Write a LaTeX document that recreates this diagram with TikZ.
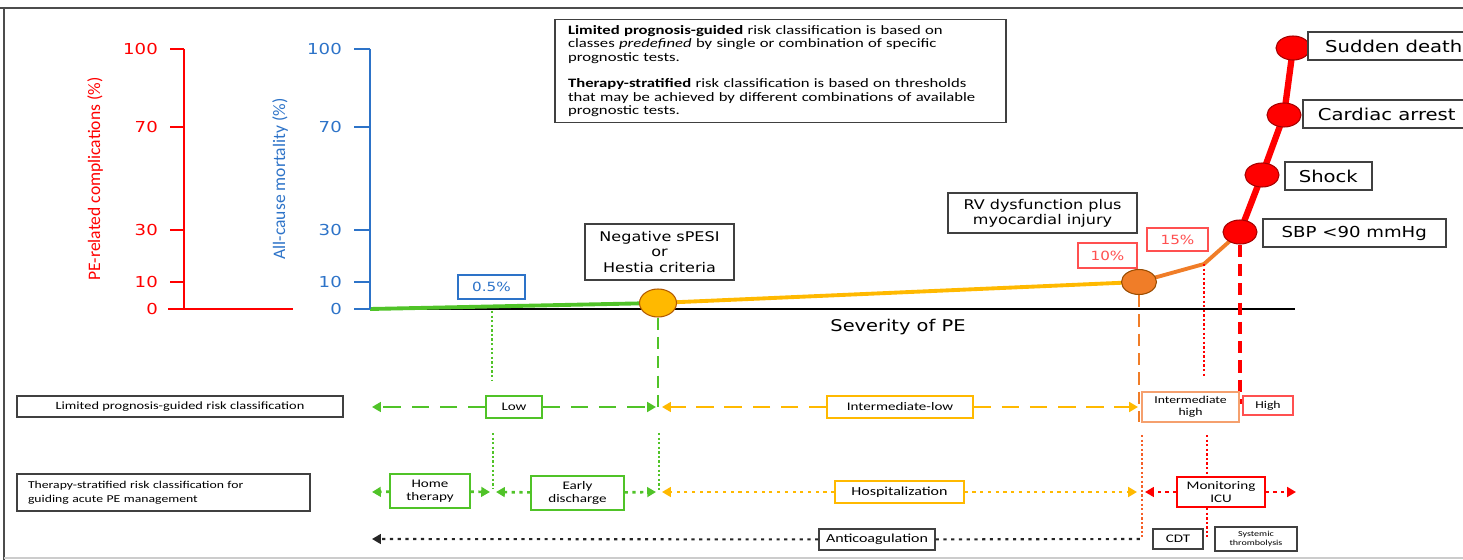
\documentclass[tikz,border=0pt]{standalone}
\usepackage{fontspec}
\setmainfont{Carlito}[FakeStretch=1.3]
\newfontfamily\vfont{DejaVu Sans}[FakeStretch=1.2]
\newfontfamily\plainfont{Carlito}
\usetikzlibrary{positioning, shapes.geometric, arrows.meta, backgrounds}
\definecolor{pegreen}{RGB}{80,195,40}
\definecolor{peyellow}{RGB}{255,185,0}
\definecolor{peorange}{RGB}{240,125,40}
\definecolor{pelight}{RGB}{245,160,110}
\definecolor{pered}{RGB}{255,0,0}
\definecolor{pepink}{RGB}{255,80,80}
\definecolor{peblue}{RGB}{45,115,200}
\definecolor{pevermil}{RGB}{245,95,40}
\tikzset{
    pdot/.style={ellipse, draw=red!65!black, fill=pered, line width=0.6pt, minimum width=0.68cm, minimum height=0.48cm, inner sep=0pt},
    evtag/.style={draw=black!75, line width=0.9pt, fill=white, anchor=west, minimum height=0.57cm, font=\vfont\fontsize{9.3}{11}\selectfont},
    note/.style={draw=black!75, line width=0.9pt, fill=white, align=center, font=\vfont\fontsize{7.6}{8.7}\selectfont},
    pct/.style={draw, line width=0.9pt, fill=white, inner sep=0pt, font=\vfont\fontsize{7.2}{8}\selectfont},
    axnum/.style={anchor=east, font=\vfont\fontsize{8.6}{10}\selectfont},
    rowlab/.style={draw=black!75, line width=0.9pt, fill=white, font=\fontsize{6.3}{7.9}\selectfont},
    cls/.style={draw, line width=0.8pt, fill=white, align=center, inner sep=0pt, font=\fontsize{6.6}{7.6}\selectfont},
    dashline/.style={line width=1.4pt, dash pattern=on 10pt off 6pt},
    dotline/.style={line width=1.5pt, dash pattern=on 1.8pt off 2.6pt},
    vdot/.style={line width=1.4pt, dash pattern=on 1.3pt off 1.3pt},
    vdash/.style={line width=1.5pt, dash pattern=on 7pt off 4pt},
    tipped/.style={-{Triangle[length=5pt,width=5.5pt]}}
}
\begin{document}
\begin{tikzpicture}[x=0.02cm, y=-0.02cm]
    \useasboundingbox (0,0) rectangle (1463,560);

    % frame
    \draw [black!70, line width=1.2pt] (0,8) -- (1463,8);
    \draw [black!70, line width=1.2pt] (4,8) -- (4,560);
    \draw [black!20, line width=0.8pt] (4,558) -- (1463,558);

    % red axis
    \draw [pered, line width=1.6pt] (184,49) -- (184,309);
    \foreach \v/\yy in {100/49, 70/127, 30/230, 10/282} {
        \draw [pered, line width=1.6pt] (170,\yy) -- (184,\yy);
        \node [axnum, text=pered] (rl\v) at (164,\yy) {\v};
    }
    \draw [pered, line width=1.6pt] (168,309) -- (293,309);
    \node [axnum, text=pered] (rl0) at (164,309) {0};
    \node [rotate=90, text=pered, font=\plainfont\fontsize{10}{12}\selectfont] (redtitle) at (95,179) {PE-related complications (\%)};

    % blue axis
    \draw [peblue, line width=1.6pt] (370,49) -- (370,309);
    \foreach \v/\yy in {100/49, 70/127, 30/230, 10/282, 0/309} {
        \draw [peblue, line width=1.6pt] (354,\yy) -- (370,\yy);
        \node [axnum, text=peblue] (bl\v) at (348,\yy) {\v};
    }
    \node [rotate=90, text=peblue, font=\plainfont\fontsize{10}{12}\selectfont] (bluetitle) at (280,179) {All-cause mortality (\%)};

    % severity curve
    \coordinate (start) at (370,309);
    \coordinate (axend) at (1295,309);
    \coordinate (bend) at (1204,264);
    \node [pdot, fill=peyellow, draw=orange!70!black, minimum width=0.74cm, minimum height=0.56cm] (spesi) at (658,303) {};
    \node [pdot, fill=peorange, draw=orange!60!black, minimum width=0.7cm, minimum height=0.5cm] (rv) at (1139,282) {};
    \node [pdot] (sbp) at (1240,232) {};
    \node [pdot] (shock) at (1262,175) {};
    \node [pdot] (arrest) at (1284,115) {};
    \node [pdot] (death) at (1293,48) {};
    \node [font=\vfont\fontsize{9.2}{11}\selectfont] (sev) at (898,327) {Severity of PE};

    % event labels
    \node [evtag, minimum width=3.44cm] (tdeath) at (1307,46) {Sudden death};
    \node [evtag, minimum width=3.36cm] (tarrest) at (1302,114) {Cardiac arrest};
    \node [evtag, minimum width=1.74cm] (tshock) at (1284,176) {Shock};
    \node [evtag, minimum width=3.66cm, font=\vfont\fontsize{8.6}{10}\selectfont] (tsbp) at (1262,233) {SBP <90 mmHg};

    \node [note, minimum width=3.78cm, minimum height=0.8cm] (rvnote) at (1042.5,213) {RV dysfunction plus\\myocardial injury};
    \node [note, minimum width=2.98cm, minimum height=1.12cm] (spesinote) at (659.5,252) {Negative sPESI\\or\\Hestia criteria};
    \node [pct, draw=pepink, text=pepink, minimum width=1.18cm, minimum height=0.5cm] (p10) at (1107.5,255.5) {10\%};
    \node [pct, draw=pepink, text=pepink, minimum width=1.22cm, minimum height=0.46cm] (p15) at (1177.5,239.5) {15\%};
    \node [pct, draw=peblue, text=peblue, minimum width=1.34cm, minimum height=0.48cm] (p05) at (491.5,287) {0.5\%};

    % legend box
    \node [draw=black!75, line width=0.9pt, minimum width=9.02cm, minimum height=2.04cm, text width=8.5cm, align=left, inner xsep=0.26cm, font=\fontsize{7.3}{7.6}\selectfont] (info) at (780.5,71)
        {\textbf{Limited prognosis-guided} risk classification is based on\\
         classes \textit{predefined} by single or combination of specific\\
         prognostic tests.\\[7.6pt]
         \textbf{Therapy-stratified} risk classification is based on thresholds\\
         that may be achieved by different combinations of available\\
         prognostic tests.};

    % row titles
    \node [rowlab, minimum width=6.52cm, minimum height=0.42cm] (rowlab1) at (180,406.5) {Limited prognosis-guided risk classification};
    \node [rowlab, minimum width=5.86cm, minimum height=0.74cm, text width=5.42cm, align=left, font=\fontsize{6}{7.9}\selectfont] (rowlab2) at (163.5,492.5) {Therapy-stratified risk classification for\\guiding acute PE management};

    % classes
    \node [cls, draw=pegreen, minimum width=1.12cm, minimum height=0.44cm] (low) at (514,407) {Low};
    \node [cls, draw=peyellow, minimum width=2.92cm, minimum height=0.44cm] (intlow) at (900,407) {Intermediate-low};
    \node [cls, draw=pelight, minimum width=1.94cm, minimum height=0.6cm, font=\fontsize{6}{7}\selectfont] (inthigh) at (1190.5,407) {Intermediate\\high};
    \node [cls, draw=pepink, minimum width=1.0cm, minimum height=0.38cm, font=\fontsize{6}{7}\selectfont] (high) at (1268,405.5) {High};

    \node [cls, draw=pegreen, minimum width=1.6cm, minimum height=0.68cm] (home) at (430,491) {Home\\therapy};
    \node [cls, draw=pegreen, minimum width=1.86cm, minimum height=0.68cm] (early) at (577.5,493) {Early\\discharge};
    \node [cls, draw=peyellow, minimum width=2.58cm, minimum height=0.44cm, font=\fontsize{7}{8}\selectfont] (hosp) at (899.5,492) {Hospitalization};
    \node [cls, draw=pered, minimum width=1.76cm, minimum height=0.6cm] (icu) at (1221,492) {Monitoring\\ICU};

    \node [cls, draw=black!75, minimum width=2.32cm, minimum height=0.42cm, font=\fontsize{7}{8}\selectfont] (anti) at (877,539.5) {Anticoagulation};
    \node [cls, draw=black!75, minimum width=1.0cm, minimum height=0.4cm] (cdt) at (1178,539) {CDT};
    \node [cls, draw=black!75, minimum width=1.64cm, minimum height=0.48cm, font=\fontsize{4.4}{5.4}\selectfont] (thromb) at (1256,539) {Systemic\\thrombolysis};

    % row ends
    \coordinate (r1l) at (372,407);
    \coordinate (r1a) at (656,407);
    \coordinate (r1b) at (662,407);
    \coordinate (r1c) at (1138,407);
    \coordinate (r2l) at (372,492);
    \coordinate (r2a) at (490,492);
    \coordinate (r2b) at (496,492);
    \coordinate (r2c) at (656,492);
    \coordinate (r2d) at (662,492);
    \coordinate (r2e) at (1137,492);
    \coordinate (r2f) at (1145,492);
    \coordinate (r2g) at (1296,492);
    \coordinate (r3l) at (372,539);
    \coordinate (r3r) at (1142,539);

    % vertical guides
    \coordinate (v1a) at (492,311);
    \coordinate (v1b) at (492,380);
    \coordinate (v1c) at (493,433);
    \coordinate (v1d) at (493,488);
    \coordinate (v2b) at (658,410);
    \coordinate (v2c) at (659,433);
    \coordinate (v2d) at (659,490);
    \coordinate (v3b) at (1139,422);
    \coordinate (v4b) at (1204,378);
    \coordinate (v5b) at (1240,404);
    \coordinate (v6a) at (1142,435);
    \coordinate (v6b) at (1142,537);
    \coordinate (v7a) at (1207,435);
    \coordinate (v7b) at (1207,537);

    \begin{scope}[on background layer]
        \draw [black, line width=1.1pt] (start) -- (axend);
        \draw [pegreen, line width=2.2pt] (start) -- (spesi.center);
        \draw [peyellow, line width=2.2pt] (spesi.center) -- (rv.center);
        \draw [peorange, line width=2.2pt, line join=round] (rv.center) -- (bend) -- (sbp.center);
        \draw [pered, line width=3.6pt, line join=round] (sbp.center) -- (shock.center) -- (arrest.center) -- (death.center);

        \draw [vdot, pegreen] (v1a) -- (v1b);
        \draw [vdot, pegreen] (v1c) -- (v1d);
        \draw [vdash, pegreen] (spesi.south) -- (v2b);
        \draw [vdot, pegreen] (v2c) -- (v2d);
        \draw [vdash, peorange] (rv.south) -- (v3b);
        \draw [vdot, pered] (bend) -- (v4b);
        \draw [vdash, pered, line width=2pt] (sbp.south) -- (v5b);
        \draw [vdot, pevermil] (v6a) -- (v6b);
        \draw [vdot, pered] (v7a) -- (v7b);
    \end{scope}

    % class arrows
    \draw [dashline, pegreen, tipped] (low) -- (r1l);
    \draw [dashline, pegreen, tipped] (low) -- (r1a);
    \draw [dashline, peyellow, tipped] (intlow) -- (r1b);
    \draw [dashline, peyellow, tipped] (intlow) -- (r1c);

    \draw [dotline, pegreen, tipped] (home) -- (r2l);
    \draw [dotline, pegreen, tipped] (home) -- (r2a);
    \draw [dotline, pegreen, tipped] (early) -- (r2b);
    \draw [dotline, pegreen, tipped] (early) -- (r2c);
    \draw [dotline, peyellow, tipped] (hosp) -- (r2d);
    \draw [dotline, peyellow, tipped] (hosp) -- (r2e);
    \draw [dotline, pered, tipped] (icu) -- (r2f);
    \draw [dotline, pered, tipped] (icu) -- (r2g);

    \draw [dotline, black!85, line width=1.2pt, tipped] (anti) -- (r3l);
    \draw [dotline, black!85, line width=1.2pt] (anti) -- (r3r);
\end{tikzpicture}
\end{document}
